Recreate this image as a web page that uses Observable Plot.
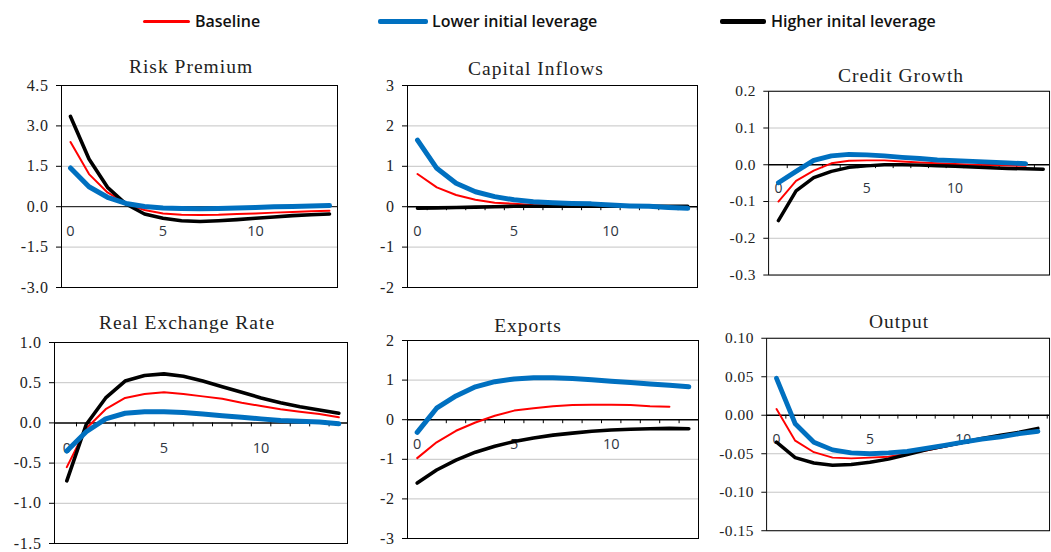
<!DOCTYPE html>
<html><head><meta charset="utf-8">
<script src="https://cdn.jsdelivr.net/npm/d3@7"></script>
<script src="https://cdn.jsdelivr.net/npm/@observablehq/plot@0.6"></script>
<style>
html,body{margin:0;padding:0;background:#fff;}
#root{position:relative;width:1051px;height:552px;overflow:hidden;background:#fff;}
.title{position:absolute;font-family:"Liberation Serif",serif;font-size:19.5px;letter-spacing:1px;color:#222;white-space:nowrap;line-height:1;transform:translateX(-50%);}
.leg{position:absolute;font-family:"Open Sans",sans-serif;font-weight:600;font-size:16px;color:#111;white-space:nowrap;line-height:1;}
.sw{position:absolute;border-radius:2px;}
.panel{position:absolute;}
</style></head><body><div id="root"></div>
<script>
// ---------- data ----------
const periods = [0,1,2,3,4,5,6,7,8,9,10,11,12,13,14,15];
const seriesNames = ["Baseline", "Lower initial leverage", "Higher inital leverage"];
const xLabels = [0, 5, 10];

const riskTicks = [-3, -1.5, 0, 1.5, 3, 4.5];
const riskBaseline = [2.40,1.21,0.53,0.12,-0.12,-0.25,-0.30,-0.31,-0.30,-0.27,-0.25,-0.22,-0.20,-0.17,-0.15];
const riskLower    = [1.44,0.74,0.35,0.12,0.01,-0.05,-0.07,-0.08,-0.07,-0.05,-0.03,0.00,0.01,0.03,0.04];
const riskHigher   = [3.35,1.77,0.72,0.10,-0.27,-0.43,-0.52,-0.55,-0.52,-0.48,-0.43,-0.38,-0.33,-0.30,-0.27];

const capTicks = [-2, -1, 0, 1, 2, 3];
const capBaseline = [0.81,0.48,0.29,0.17,0.10,0.07,0.04,0.03,0.02,0.02,0.01,0.01,0.01,0.00,0.00];
const capLower    = [1.65,0.95,0.58,0.37,0.25,0.17,0.12,0.10,0.08,0.07,0.04,0.02,0.01,-0.02,-0.04];
const capHigher   = [-0.04,-0.03,-0.02,-0.01,0.00,0.01,0.01,0.01,0.01,0.01,0.01,0.01,0.01,0.01,0.01];

const creditTicks = [-0.3, -0.2, -0.1, 0, 0.1, 0.2];
const creditBaseline = [-0.100,-0.044,-0.016,0.004,0.011,0.012,0.012,0.009,0.006,0.004,0.002,0.000,-0.001,-0.002,-0.003];
const creditLower    = [-0.049,-0.018,0.012,0.024,0.028,0.027,0.024,0.020,0.017,0.013,0.011,0.009,0.007,0.005,0.003];
const creditHigher   = [-0.152,-0.071,-0.035,-0.018,-0.007,-0.003,0.000,0.000,-0.001,-0.003,-0.004,-0.006,-0.008,-0.010,-0.011,-0.012];

const rerTicks = [-1.5, -1.0, -0.5, 0, 0.5, 1.0];
const rerBaseline = [-0.55,-0.07,0.17,0.31,0.36,0.38,0.36,0.33,0.30,0.25,0.21,0.17,0.14,0.11,0.07];
const rerLower    = [-0.35,-0.11,0.05,0.12,0.14,0.14,0.13,0.11,0.09,0.07,0.05,0.03,0.02,0.01,-0.01];
const rerHigher   = [-0.72,-0.02,0.31,0.52,0.59,0.61,0.58,0.52,0.45,0.38,0.31,0.25,0.20,0.16,0.12];

const expTicks = [-3, -2, -1, 0, 1, 2];
const expBaseline = [-0.97,-0.57,-0.28,-0.07,0.10,0.23,0.29,0.34,0.37,0.38,0.38,0.37,0.34,0.33];
const expLower    = [-0.32,0.29,0.60,0.83,0.96,1.03,1.06,1.06,1.04,1.01,0.97,0.94,0.90,0.87,0.83];
const expHigher   = [-1.60,-1.27,-1.02,-0.82,-0.67,-0.55,-0.46,-0.39,-0.34,-0.29,-0.26,-0.24,-0.23,-0.22,-0.23];

const outTicks = [-0.15, -0.10, -0.05, 0, 0.05, 0.10];
const outBaseline = [0.008,-0.033,-0.048,-0.055,-0.056,-0.055,-0.054,-0.050,-0.046,-0.041,-0.036,-0.032,-0.028,-0.024,-0.020];
const outLower    = [0.048,-0.011,-0.035,-0.045,-0.049,-0.050,-0.049,-0.047,-0.043,-0.039,-0.035,-0.031,-0.028,-0.024,-0.021];
const outHigher   = [-0.035,-0.055,-0.062,-0.065,-0.064,-0.061,-0.057,-0.051,-0.045,-0.040,-0.035,-0.030,-0.026,-0.022,-0.017];

// ---------- styles ----------
const seriesColors = ["#ff0000", "#0070c0", "#000000"];
const seriesWidths = [2, 5, 3.6];
const drawOrder = [0, 2, 1];
const halfTicks = d3.range(0.5, 15, 1);

const panels = [
  {title:"Risk Premium", ticks:riskTicks, dec:1, series:[riskBaseline,riskLower,riskHigher],
   L:61, T:85, R:337, B:287, x0:70, unit:18.5, tx:191, tb:73, zeroTicks:false, zeroW:1},
  {title:"Capital Inflows", ticks:capTicks, dec:0, series:[capBaseline,capLower,capHigher],
   L:407, T:85, R:697, B:287, x0:417, unit:19.3, tx:536, tb:75, zeroTicks:true, zeroW:1.5},
  {title:"Credit Growth", ticks:creditTicks, dec:1, series:[creditBaseline,creditLower,creditHigher],
   L:770, T:91, R:1062, B:282, x0:780.2, unit:18.35, tx:901, tb:82, zeroTicks:true, zeroW:1.5},
  {title:"Real Exchange Rate", ticks:rerTicks, dec:1, series:[rerBaseline,rerLower,rerHigher],
   L:54, T:342, R:347, B:543, x0:66.3, unit:19.43, tx:187, tb:329, zeroTicks:true, zeroW:1.5},
  {title:"Exports", ticks:expTicks, dec:0, series:[expBaseline,expLower,expHigher],
   L:407, T:340, R:698, B:538, x0:416.7, unit:19.4, tx:528, tb:332, zeroTicks:true, zeroW:1.5},
  {title:"Output", ticks:outTicks, dec:2, series:[outBaseline,outLower,outHigher],
   L:768, T:338, R:1062, B:538, x0:778.3, unit:19.4, tx:899, tb:328, zeroTicks:true, zeroW:1.5}
];

const root = document.getElementById("root");

// ---------- legend ----------
const legendLayout = [
  {sx:143, sw:47, sh:3, tx:195},
  {sx:378, sw:50, sh:5, tx:432},
  {sx:720, sw:46, sh:5, tx:771}
];
seriesNames.forEach((name, i) => {
  const lay = legendLayout[i];
  const sw = document.createElement("div");
  sw.className = "sw";
  Object.assign(sw.style, {left: lay.sx+"px", width: lay.sw+"px", top: (21 - lay.sh/2)+"px", height: lay.sh+"px", background: seriesColors[i]});
  root.appendChild(sw);
  const t = document.createElement("div");
  t.className = "leg";
  t.textContent = name;
  Object.assign(t.style, {left: lay.tx+"px", top: "13px"});
  root.appendChild(t);
});

// ---------- panels ----------
panels.forEach(cfg => {
  const mL = 50, mR = 2, mT = 6, mB = 12;
  const width = cfg.R - cfg.L + mL + mR;
  const height = cfg.B - cfg.T + mT + mB;
  const xmin = (cfg.L - cfg.x0) / cfg.unit;
  const xmax = (cfg.R - cfg.x0) / cfg.unit;
  const rows = [];
  cfg.series.forEach((vals, s) => vals.forEach((v, i) => rows.push({t: periods[i], v, s})));
  const yd = [cfg.ticks[0], cfg.ticks[cfg.ticks.length - 1]];
  const fmt = d => (Math.abs(d) < 1e-12 ? 0 : d).toFixed(cfg.dec);

  const marks = [
    Plot.gridY(cfg.ticks.filter(t => t !== 0), {stroke: "#c4c4c4", strokeOpacity: 1, strokeWidth: 1}),
    Plot.axisY(cfg.ticks, {tickSize: 5, tickPadding: 8, tickFormat: fmt, label: null,
      fontFamily: "Liberation Serif", fontSize: 16, fill: "#222", stroke: "#000"}),
    Plot.text(xLabels, {x: d => d, y: () => 0, dy: 25, text: d => String(d),
      fontFamily: "Open Sans", fontSize: 14.5, fill: "#2e3440"}),
    Plot.ruleY([0], {stroke: "#000", strokeWidth: cfg.zeroW})
  ];
  if (cfg.zeroTicks) {
    marks.push(Plot.ruleX(halfTicks.filter(h => h > xmin + 0.05 && h < xmax), {x: d => d, y1: () => 0, y2: () => 0, insetBottom: -4, stroke: "#000", strokeWidth: 1}));
  }
  drawOrder.forEach(s => {
    marks.push(Plot.line(rows.filter(r => r.s === s), {x: "t", y: "v", stroke: seriesColors[s],
      strokeWidth: seriesWidths[s], strokeLinecap: "round", strokeLinejoin: "round"}));
  });
  marks.push(Plot.frame({stroke: "#000", strokeWidth: 1}));

  const svg = Plot.plot({
    width, height,
    marginLeft: mL, marginRight: mR, marginTop: mT, marginBottom: mB,
    x: {domain: [xmin, xmax], axis: null},
    y: {domain: yd},
    style: {background: "transparent", overflow: "visible", color: "#222"},
    marks
  });
  svg.querySelectorAll('[aria-label="y-axis tick label"] text').forEach(t => t.style.letterSpacing = "0.6px");
  const wrap = document.createElement("div");
  wrap.className = "panel";
  Object.assign(wrap.style, {left: (cfg.L - mL) + "px", top: (cfg.T - mT) + "px"});
  wrap.appendChild(svg);
  root.appendChild(wrap);

  const title = document.createElement("div");
  title.className = "title";
  title.textContent = cfg.title;
  Object.assign(title.style, {left: cfg.tx + "px", top: (cfg.tb - 16.3) + "px"});
  root.appendChild(title);
});
</script>
</body></html>
